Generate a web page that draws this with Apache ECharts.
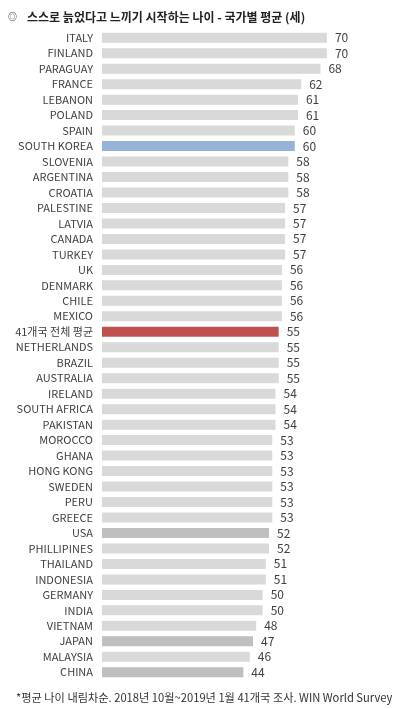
<!DOCTYPE html>
<html>
<head>
<meta charset="utf-8">
<script src="https://cdn.jsdelivr.net/npm/echarts@6/dist/echarts.min.js"></script>
<style>
  html, body { margin: 0; padding: 0; background: #fff; }
  #chart_age { width: 399px; height: 709px; }
</style>
</head>
<body>
<div id="chart_age"></div>
<script>
  // 국가 (위에서 아래 순서)
  var countries = ['ITALY', 'FINLAND', 'PARAGUAY', 'FRANCE', 'LEBANON', 'POLAND', 'SPAIN', 'SOUTH KOREA',
    'SLOVENIA', 'ARGENTINA', 'CROATIA', 'PALESTINE', 'LATVIA', 'CANADA', 'TURKEY', 'UK', 'DENMARK',
    'CHILE', 'MEXICO', '41개국 전체 평균', 'NETHERLANDS', 'BRAZIL', 'AUSTRALIA', 'IRELAND',
    'SOUTH AFRICA', 'PAKISTAN', 'MOROCCO', 'GHANA', 'HONG KONG', 'SWEDEN', 'PERU', 'GREECE', 'USA',
    'PHILLIPINES', 'THAILAND', 'INDONESIA', 'GERMANY', 'INDIA', 'VIETNAM', 'JAPAN', 'MALAYSIA', 'CHINA'];
  // 평균 나이 (세)
  var ages = [70, 70, 68, 62, 61, 61, 60, 60,
    58, 58, 58, 57, 57, 57, 57, 56, 56,
    56, 56, 55, 55, 55, 55, 54,
    54, 54, 53, 53, 53, 53, 53, 53, 52,
    52, 51, 51, 50, 50, 48, 47, 46, 44];

  var titleText = '스스로 늙었다고 느끼기 시작하는 나이 - 국가별 평균 (세)';
  var noteText = '*평균 나이 내림차순. 2018년 10월~2019년 1월 41개국 조사. WIN World Survey';

  var font = '"Noto Sans CJK KR", "Noto Sans", sans-serif';

  function barColor(name) {
    if (name === 'SOUTH KOREA') return '#95b3d7';
    if (name === '41개국 전체 평균') return '#c0504d';
    if (name === 'USA' || name === 'JAPAN' || name === 'CHINA') return '#bfbfbf';
    return '#d9d9d9';
  }

  var chart = echarts.init(document.getElementById('chart_age'));
  chart.setOption({
    animation: false,
    backgroundColor: '#fff',
    title: [
      {
        text: '{a|◎}  {b|' + titleText + '}',
        left: 3,
        top: 3,
        textStyle: {
          rich: {
            a: { fontSize: 9, color: '#444', fontFamily: font },
            b: { fontSize: 12, fontWeight: 'bold', color: '#222', fontFamily: font }
          }
        }
      },
      {
        text: noteText,
        left: 11,
        bottom: 1,
        textStyle: { fontSize: 11.2, fontWeight: 'normal', color: '#333', fontFamily: font }
      }
    ],
    grid: {
      left: 102,
      top: 30,
      width: 257,
      height: 650
    },
    xAxis: {
      type: 'value',
      min: 0,
      max: 80,
      show: false
    },
    yAxis: {
      type: 'category',
      inverse: true,
      data: countries,
      axisLine: { show: false },
      axisTick: { show: false },
      splitLine: { show: false },
      axisLabel: {
        margin: 9,
        fontSize: 11,
        color: '#404040',
        fontFamily: font
      }
    },
    series: [
      {
        type: 'bar',
        barWidth: 10,
        data: ages.map(function (v, i) {
          return { value: v, itemStyle: { color: barColor(countries[i]) } };
        }),
        label: {
          show: true,
          position: 'right',
          distance: 8,
          fontSize: 12,
          color: '#404040',
          fontFamily: font
        }
      }
    ]
  });
</script>
</body>
</html>
